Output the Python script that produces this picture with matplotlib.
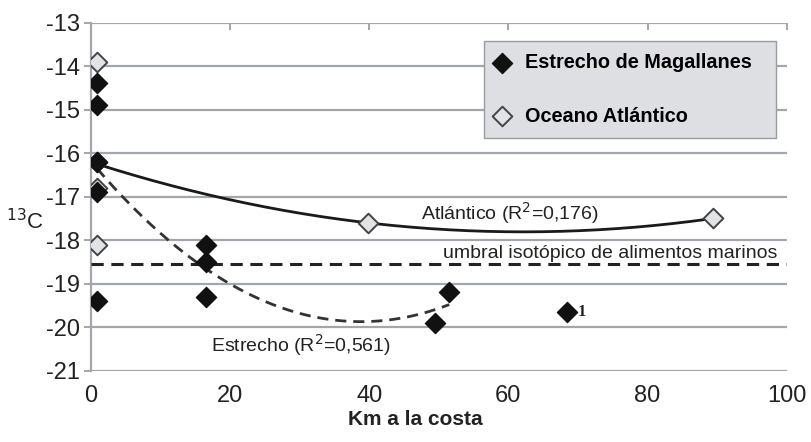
import numpy as np
import matplotlib.pyplot as plt

plt.rcParams['font.family'] = ['Liberation Sans', 'DejaVu Sans']
plt.rcParams['axes.unicode_minus'] = False

# Estrecho de Magallanes (filled diamonds)
est_x = [0.9, 0.9, 0.9, 0.9, 0.9, 16.5, 16.5, 16.5, 49.5, 51.5]
est_y = [-14.4, -14.9, -16.2, -16.9, -19.4, -18.1, -18.5, -19.3, -19.9, -19.2]
est_out_x = [68.5]
est_out_y = [-19.65]

# Oceano Atlantico (open diamonds)
atl_x = [0.9, 0.9, 0.9, 0.9, 39.8, 89.4]
atl_y = [-13.9, -16.2, -16.8, -18.1, -17.6, -17.5]

umbral = -18.55

fig = plt.figure(figsize=(8.11, 4.42), dpi=100)
ax = fig.add_axes([0.112, 0.161, 0.858, 0.788])

grid_c = '#a3a6ad'
for yv in range(-21, -12):
    ax.axhline(yv, color=grid_c, lw=1.6, zorder=1)

# trend lines (quadratic fits)
pa = np.polyfit(atl_x, atl_y, 2)
xa = np.linspace(0.9, 89.4, 200)
ax.plot(xa, np.polyval(pa, xa), color='#1a1a1a', lw=2, zorder=3)

pe = np.polyfit(est_x, est_y, 2)
xe = np.linspace(0.9, 51.5, 200)
ax.plot(xe, np.polyval(pe, xe), color='#333333', lw=2, ls=(0, (4, 2.5)), zorder=3)

ax.plot([0, 100], [umbral, umbral], color='#222222', lw=2.2, ls=(0, (4, 2.5)), zorder=3)

ax.scatter(atl_x, atl_y, marker='D', s=100, facecolor='#e2e3e6', edgecolor='#444444',
           linewidths=1.4, zorder=4, label='Oceano Atlántico')
ax.scatter(est_x + est_out_x, est_y + est_out_y, marker='D', s=105, color='#111111',
           zorder=5, label='Estrecho de Magallanes')
ax.text(est_out_x[0] + 1.4, est_out_y[0], '1', fontsize=12, fontweight='bold',
        family='Liberation Serif', va='center', ha='left', color='#222222')

ax.text(60.2, -17.38, 'Atlántico (R$^2$=0,176)', fontsize=14, ha='center', va='center',
        color='#222222')
ax.text(30.2, -20.41, 'Estrecho (R$^2$=0,561)', fontsize=14, ha='center', va='center',
        color='#222222')
ax.text(98.6, -18.30, 'umbral isotópico de alimentos marinos', fontsize=14,
        ha='right', va='center', color='#222222')

ax.set_xlim(0, 100)
ax.set_ylim(-21, -13)
ax.set_xticks([0, 20, 40, 60, 80, 100])
ax.set_yticks(range(-21, -12))
ax.tick_params(axis='both', labelsize=17, colors='#222222')
ax.tick_params(axis='y', color=grid_c, length=5, width=1.4, pad=3)
ax.tick_params(axis='x', length=0, pad=10)
for s in ['top', 'right', 'bottom']:
    ax.spines[s].set_visible(False)
ax.spines['left'].set_color(grid_c)
ax.spines['left'].set_linewidth(1.6)

top = ax.secondary_xaxis('top')
top.set_xticks([20, 40, 60, 80, 100])
top.tick_params(direction='in', length=5, width=1.4, color=grid_c, labeltop=False)
top.spines['top'].set_visible(False)

fig.text(0.512, 0.052, 'Km a la costa', fontsize=15, fontweight='bold', color='#222222',
         ha='center', va='center')
fig.text(0.054, 0.498, '$^{13}$C', fontsize=16, ha='right', va='center', color='#222222')

h, l = ax.get_legend_handles_labels()
leg = ax.legend(h[::-1], l[::-1], loc='upper left', mode='expand',
                bbox_to_anchor=(0.565, 0.5, 0.4195, 0.447),
                prop={'weight': 'bold', 'size': 14.3}, frameon=True, fancybox=False,
                borderpad=0.6, labelspacing=1.75, handlelength=0.6, handletextpad=0.85,
                borderaxespad=0)
leg.get_frame().set_facecolor('#dedfe3')
leg.get_frame().set_edgecolor('#9a9ca2')
leg.get_frame().set_alpha(1)
leg.set_zorder(6)

fig.savefig('out.png')
